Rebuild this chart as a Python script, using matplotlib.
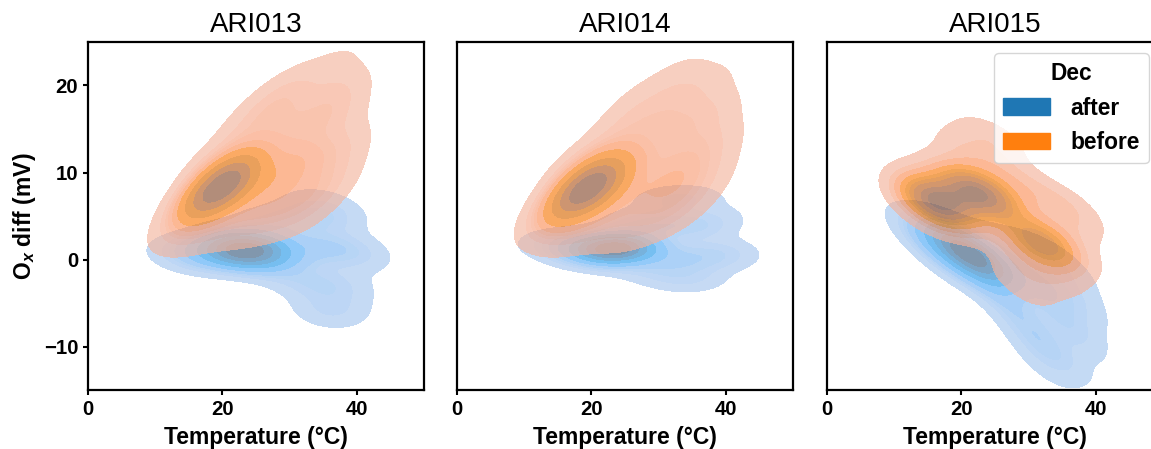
import matplotlib.pyplot as plt
import numpy as np
import pandas as pd
import seaborn as sns

plt.rcParams['font.family'] = ['Liberation Sans', 'DejaVu Sans']
plt.rcParams['font.weight'] = 'bold'
plt.rcParams['mathtext.fontset'] = 'custom'
plt.rcParams['mathtext.rm'] = 'Liberation Sans:bold'
plt.rcParams['mathtext.it'] = 'Liberation Sans:bold:italic'
plt.rcParams['mathtext.bf'] = 'Liberation Sans:bold'

sensors = ["ARI013", "ARI014", "ARI015"]
groups = ["after", "before"]

# (temperature °C, Ox diff mV, weight)
ari013_after = [(23.6, 1.1, 10), (22, 1.3, 4), (25, 1, 4), (20, 0.8, 3), (17, 0.5, 2),
                (14.5, 0.7, 1), (13, 0.8, 0.4),
                (27, 1, 1), (30, 1, 1), (33, 1, 1), (36, 1.6, 1.5), (39, 1, 1),
                (40.5, 0, 0.8), (28, 4, 1), (31, 4.5, 1), (34, 5, 1), (37, 4.5, 0.8),
                (33, 7, 0.6), (36, 6, 0.6), (29, -1, 1), (32, -2.5, 1), (35, -3, 1),
                (38, -3, 0.8), (35, -5.5, 0.8), (36.5, -6.5, 0.8), (38, -5, 0.6),
                (26, -0.5, 0.8), (25, 4, 0.6)]
ari013_before = [(20, 8.7, 10), (18.5, 7.6, 6), (21.5, 9.5, 5), (17, 6.3, 3), (22.5, 8, 3),
                 (29, 9.7, 3),
                 (12.5, 3.5, 1), (15, 3, 1), (18, 3.5, 1), (21, 4, 1), (24, 4, 1),
                 (27, 4.5, 1), (30, 5, 1), (33, 5.5, 1), (36, 8, 1),
                 (16, 7, 1), (24, 7, 1), (27, 7, 1), (30, 7.5, 1), (33, 8.5, 1), (37, 10, 1),
                 (18, 11, 1), (21, 12, 1), (24, 12, 1), (27, 12, 1), (30, 12, 1),
                 (33, 12, 1), (36, 12.5, 1), (38.5, 13, 1),
                 (23, 15.5, 1), (26, 16, 1), (29, 15.5, 1), (32, 15.5, 1), (35, 16, 1),
                 (38, 16.5, 1), (27, 18.5, 1), (30, 18, 1), (36, 19, 1), (38.5, 19.5, 1),
                 (31, 20.5, 1), (37, 22.5, 1)]

ari014_after = [(23.5, 1.2, 10), (22, 1.5, 4), (25, 1.2, 4), (20, 1, 2.5), (17, 1.5, 1.5),
                (14.5, 2, 0.8), (13, 2.2, 0.4),
                (27, 1, 1), (30, 0.5, 1), (33, 0, 1), (36, 0, 1), (39, 1, 1), (41, 0, 0.7),
                (28, 4, 1), (31, 4, 1), (34, 4, 1), (37, 3.5, 1), (39, 5, 0.6),
                (33, 7, 0.8), (36, 7, 0.6), (30, -1.5, 0.8), (33, -2, 0.8), (36, -2.5, 0.8),
                (26, -0.5, 0.8), (25, 4.5, 0.6), (30, 7, 0.6)]
ari014_before = [(19.5, 8.5, 10), (18, 7.3, 6), (21, 9.3, 5), (16.5, 6, 3), (22, 8, 3),
                 (31, 8.5, 2.5),
                 (13, 4, 1), (16, 3, 1), (19, 3.5, 1), (22, 4, 1), (25, 3.5, 1),
                 (28, 4, 1), (31, 5, 1), (34, 6, 1), (37, 8.5, 0.8),
                 (24, 7, 1), (27, 7.5, 1), (34, 9, 1), (38, 11, 0.8),
                 (18, 11, 1), (21, 12, 1), (24, 12.5, 1), (27, 12, 1), (30, 12, 1),
                 (33, 12, 1), (36, 12.5, 1), (39, 14, 0.8),
                 (24, 16, 0.8), (27, 16, 1), (30, 16, 1), (33, 16, 1), (36, 16, 1),
                 (38.5, 17, 0.8), (27, 19, 0.6), (32, 19.5, 0.8), (35, 19.5, 0.8),
                 (33.5, 22, 0.6), (38.5, 20.5, 0.6)]

ari015_after = [(21.3, 0.7, 10), (19, 1.5, 4), (23, 0.5, 3), (16, 2, 2), (14, 2.5, 0.8),
                (18, -0.3, 1.5), (22, -1.5, 1.5),
                (25, -1, 1), (26, -4, 1), (28, -6, 1), (30, -8, 1), (32, -10.5, 1),
                (33, -13, 0.6), (35.7, -6.8, 1.5), (36.5, -9, 1), (34.5, -11, 1),
                (37.5, -5, 0.8), (34, -3, 1), (31, -3, 1), (28, -1, 1), (31, 1, 0.8),
                (35, 0, 0.6), (26, 2, 0.8), (36.5, -2, 0.6)]
ari015_before = [(16.8, 6.4, 8), (15, 7, 4), (19, 6.8, 4), (22.8, 7.6, 7), (21, 8, 4),
                 (24.5, 7, 3), (32, 1.8, 5), (31, 3, 2), (33, 1, 2),
                 (14, 6.5, 1), (15, 9, 1), (18, 10, 1), (21, 11, 1), (24, 11, 1),
                 (27, 10, 1), (19.5, 13.5, 0.8), (23, 14.5, 1), (26, 13.5, 0.8),
                 (27, 7, 1), (30, 8, 1), (33, 7, 1), (36, 6, 1), (38, 4, 0.8), (28, 4, 1),
                 (35, 3, 1), (37, 0, 0.8), (29, 0, 1), (32, -2, 1), (35, -2, 0.8),
                 (27, -2, 0.7), (31, -4.5, 0.7), (25, 3, 0.8), (18, 4.5, 0.8),
                 (15.5, 4.5, 0.6)]

points = {
    ("ARI013", "after"): ari013_after, ("ARI013", "before"): ari013_before,
    ("ARI014", "after"): ari014_after, ("ARI014", "before"): ari014_before,
    ("ARI015", "after"): ari015_after, ("ARI015", "before"): ari015_before,
}

rows = []
for (sensor, dec), pts in points.items():
    for t, d, w in pts:
        rows.append({"sensor": sensor, "Dec": dec, "Temperature": t, "Ox": d, "w": w})
df = pd.DataFrame(rows)


def fade(im, dpi):
    # whole density layer semi-transparent, so no seams between the levels
    im = im.copy()
    im[..., 3] *= 0.65
    return im, 0, 0


fig = plt.figure(figsize=(11.51, 4.49), dpi=100)
lefts = [88, 457, 827]

for i, sensor in enumerate(sensors):
    ax = fig.add_axes([lefts[i] / 1151, 59 / 449, 336 / 1151, 348 / 449])
    sub = df[df["sensor"] == sensor]
    sns.kdeplot(data=sub, x="Temperature", y="Ox", hue="Dec", hue_order=groups,
                weights="w", fill=True, bw_adjust=0.8,
                common_norm=False, ax=ax, legend=(i == 2))
    for c in ax.collections:
        c.set_antialiased(False)
        c.set_linewidth(0)
        c.set_agg_filter(fade)
    ax.set_xlim(0, 50)
    ax.set_ylim(-15, 25)
    ax.set_xticks([0, 20, 40])
    ax.set_title(sensor, fontsize=20, fontweight="normal", pad=7)
    ax.set_xlabel("Temperature (°C)", fontsize=16.5, fontweight="bold", labelpad=5)
    ax.tick_params(labelsize=14.7, width=1.5, length=3.5)
    for s in ax.spines.values():
        s.set_linewidth(1.6)
    if i == 0:
        ax.set_yticks([-10, 0, 10, 20])
        ax.set_ylabel(r"$\mathrm{O}_x$ diff (mV)", fontsize=16.5, fontweight="bold")
    else:
        ax.set_yticks([])
        ax.set_ylabel("")
    if i == 2:
        sns.move_legend(ax, "upper right", bbox_to_anchor=(0.958, 0.968),
                        borderaxespad=0,
                        prop={"weight": "bold", "size": 16.4},
                        title_fontproperties={"weight": "bold", "size": 16.4},
                        handlelength=2.06, handleheight=0.75, handletextpad=0.88)

fig.savefig("out.png", dpi=100)
